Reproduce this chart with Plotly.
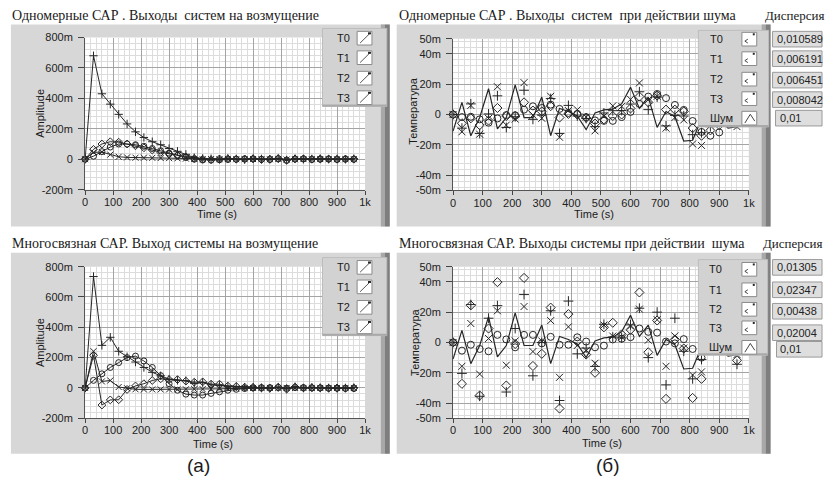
import plotly.graph_objects as go

W, H = 830, 485
def px(x): return x / W
def py(y): return 1 - y / H

# ---------------- data ----------------
t = list(range(0, 961, 30))  # 33 samples

x_ticks = [0, 100, 200, 300, 400, 500, 600, 700, 800, 900, 1000]
x_ticktext = ['0', '100', '200', '300', '400', '500', '600', '700', '800', '900', '1k']
amp_ticks = [-0.2, 0, 0.2, 0.4, 0.6, 0.8]
amp_ticktext = ['-200m', '0', '200m', '400m', '600m', '800m']
temp_ticks = [-0.05, -0.04, -0.02, 0, 0.02, 0.04, 0.05]
temp_ticktext = ['-50m', '-40m', '-20m', '0', '20m', '40m', '50m']

series_names = ['T0', 'T1', 'T2', 'T3']
series_symbols = ['x-thin-open', 'circle-open', 'diamond-open', 'cross-thin-open']

# Одномерные САР, выходы на возмущение
dist1_T0 = [0, 0.045, 0.047, 0.03, 0.016, 0.012, 0.01, 0.01, 0.009, 0.008, 0.007, 0.006, 0.004, 0.002, 0.0,
            0.001, 0.0, 0.002, 0.0, 0.0, 0.001, 0.0, 0.0, 0.002, -0.002, 0.0, 0.001, 0.0, 0.001, 0.0, 0.0, 0.0, 0.0]
dist1_T1 = [0, 0.02, 0.05, 0.08, 0.1, 0.1, 0.095, 0.085, 0.07, 0.055, 0.04, 0.025, 0.012, 0.0, -0.005,
            -0.006, -0.004, -0.002, 0.0, 0.001, 0.002, 0.0, -0.002, 0.003, -0.008, 0.001, 0.002, -0.002, 0.0, 0.002, -0.002, 0.0, 0.0]
dist1_T2 = [0, 0.065, 0.1, 0.115, 0.112, 0.1, 0.088, 0.075, 0.06, 0.045, 0.035, 0.025, 0.015, 0.005, 0.0,
            -0.003, 0.002, 0.003, 0.0, 0.002, 0.003, -0.002, 0.0, 0.004, -0.006, 0.002, 0.003, 0.0, 0.002, 0.001, 0.0, 0.002, 0.0]
dist1_T3 = [0, 0.68, 0.43, 0.362, 0.295, 0.232, 0.18, 0.143, 0.115, 0.095, 0.07, 0.052, 0.032, 0.01, 0.005,
            0.003, 0.0, 0.005, 0.002, -0.003, 0.004, 0.002, 0.0, 0.005, -0.005, 0.004, 0.0, 0.002, 0.004, 0.0, 0.002, 0.0, 0.003]

# Многосвязная САР, выход на возмущение
dist2_T0 = [0, 0.242, 0.043, 0.049, 0.006, -0.002, -0.009, -0.01, -0.01, -0.01, -0.01, -0.009, -0.009, -0.008, -0.008,
            -0.007, -0.006, -0.004, -0.003, -0.001, 0.0, 0.0, 0.0, 0.0, 0.0, 0.0, 0.0, 0.0, 0.0, 0.0, 0.0, 0.0, 0.0]
dist2_T1 = [0, 0.05, 0.093, 0.135, 0.167, 0.2, 0.21, 0.178, 0.135, 0.081, 0.028, -0.015, -0.041, -0.047, -0.047,
            -0.036, -0.026, -0.015, -0.009, -0.004, 0.0, 0.002, 0.002, 0.003, -0.002, 0.002, 0.002, 0.0, 0.0, -0.001, -0.002, -0.003, -0.004]
dist2_T2 = [0, 0.215, -0.113, -0.079, -0.078, -0.01, 0.013, 0.028, 0.049, 0.06, 0.055, 0.055, 0.045, 0.038, 0.04,
            0.025, 0.025, 0.012, 0.01, 0.005, 0.004, 0.0, -0.002, 0.004, -0.008, 0.006, 0.0, 0.002, 0.0, -0.002, 0.0, -0.002, 0.0]
dist2_T3 = [0, 0.735, 0.281, 0.334, 0.242, 0.206, 0.171, 0.135, 0.103, 0.08, 0.058, 0.05, 0.048, 0.03, 0.035,
            0.02, 0.017, 0.01, 0.008, 0.005, 0.004, 0.002, -0.002, 0.005, -0.004, 0.008, 0.0, 0.003, 0.002, 0.0, -0.002, 0.0, 0.002]

# шум (одинаковый для обоих графиков)
noise = [-0.011, 0.008, -0.014, -0.002, 0.017, -0.0095, -0.002, 0.0195, -0.002, -0.002, 0.0115, -0.014, 0.004, 0.002, -0.001,
         -0.010, 0.001, 0.003, 0.0035, 0.007, 0.018, 0.004, 0.0115, -0.0085, 0.002, -0.0015, -0.0175, -0.017, -0.003, -0.006,
         -0.004, -0.009, -0.008]

# Одномерные САР, выходы при действии шума
noise1_T0 = [0, -0.0114, 0.006, -0.013, -0.0026, 0.0183, -0.007, -0.003, 0.021, -0.0004, -0.0025, 0.012, -0.015, 0.0026, 0.0032,
             -0.0017, -0.0108, -0.001, 0.0057, 0.0054, 0.01, 0.0208, 0.0097, 0.012, -0.009, -0.002, -0.0036, -0.0194, -0.0204,
             -0.006, -0.004, -0.003, -0.008]
noise1_T1 = [0, -0.0017, -0.0015, -0.0032, -0.0054, -0.0026, -0.0004, -0.0005, 0.0032, 0.0054, 0.0043, 0.0065, 0.0037, 0.001, 0.0004,
             -0.0017, -0.0039, -0.0042, -0.0042, -0.0017, 0.0017, 0.007, 0.0118, 0.0135, 0.0108, 0.0063, 0.003, -0.0043, -0.0115,
             -0.014, -0.0118, -0.006, -0.004]
noise1_T2 = [0, -0.0058, -0.0025, -0.007, -0.004, 0.0043, -0.001, -0.001, 0.008, 0.0026, 0.002, 0.0055, -0.002, 0.0004, 0.0,
             -0.0022, -0.006, -0.0032, -0.001, 0.0, 0.004, 0.0118, 0.008, 0.0125, 0.0032, 0.0032, 0.002, -0.009, -0.014,
             -0.0105, -0.007, -0.004, -0.005]
noise1_T3 = [0, -0.009, 0.007, -0.0125, 0.0004, 0.0123, -0.0086, -0.0015, 0.016, -0.0032, -0.0004, 0.0105, -0.0125, 0.006, -0.001,
             -0.0026, -0.008, 0.001, 0.0025, 0.0026, 0.0069, 0.015, 0.0032, 0.0115, -0.0075, -0.0006, -0.001, -0.0133, -0.012,
             -0.008, -0.005, -0.002, -0.006]

# Многосвязная САР, выходы при действии шума
noise2_T0 = [0, -0.0157, 0.0125, -0.0209, 0.0026, 0.0209, -0.015, 0.001, 0.0237, -0.006, 0.001, 0.0144, -0.023, 0.0103, -0.002,
             -0.0054, -0.0137, 0.0115, 0.0042, 0.0036, 0.0108, 0.022, 0.0015, 0.015, -0.0157, 0.0043, -0.0037, -0.0215, -0.0194,
             -0.003, 0.002, -0.003, -0.008]
noise2_T1 = [0, -0.0054, -0.0015, -0.0043, -0.0058, 0.005, 0.002, -0.0032, 0.005, 0.005, -0.0006, 0.0037, -0.0015, -0.0015, 0.0034,
             0.0006, -0.0032, -0.0021, 0.002, 0.0025, 0.0035, 0.0092, 0.007, 0.0065, 0.0006, -0.0006, 0.0022, -0.0043, -0.01,
             -0.004, -0.002, -0.002, -0.005]
noise2_T2 = [0, -0.0273, 0.0245, -0.035, 0.0092, 0.0398, -0.0284, -0.001, 0.0426, -0.0155, -0.0075, 0.023, -0.0436, 0.0187, 0.0006,
             -0.008, -0.02, 0.01, 0.013, 0.0053, 0.0084, 0.033, -0.0065, 0.0145, -0.0372, 0.002, -0.004, -0.0366, -0.024,
             -0.002, 0.004, -0.006, -0.0118]
noise2_T3 = [0, -0.0204, 0.025, -0.0355, 0.016, 0.0243, -0.0327, 0.0092, 0.0316, -0.022, 0.0, 0.0209, -0.0383, 0.0273, -0.0075,
             -0.0037, -0.0158, 0.012, 0.0036, 0.003, 0.0116, 0.0226, -0.01, 0.02, -0.028, 0.016, -0.0058, -0.024, -0.0112,
             -0.005, 0.0, -0.004, -0.0144]

disp_top = ['0,010589', '0,006191', '0,006451', '0,008042', '0,01']
disp_bot = ['0,01305', '0,02347', '0,00438', '0,02004', '0,01']

# ---------------- layout geometry ----------------
INK = '#262626'
SANS = 'Liberation Sans'
SERIF = 'Liberation Serif'

plots = {
    1: dict(x=(83, 366), y=(32.3, 188.3)),    # top-left
    2: dict(x=(455, 754), y=(33.5, 189.0)),   # top-right
    3: dict(x=(83, 366), y=(267.3, 422.7)),   # bottom-left
    4: dict(x=(455, 754), y=(267.3, 422.7)),  # bottom-right
}

fig = go.Figure()

def add_line_series(k, ys_list):
    for name, sym, ys in zip(series_names, series_symbols, ys_list):
        fig.add_trace(go.Scatter(
            x=t, y=ys, mode='lines+markers', name=name,
            xaxis='x' if k == 1 else f'x{k}', yaxis='y' if k == 1 else f'y{k}',
            line=dict(color=INK, width=1),
            marker=dict(symbol=sym, size=6, color=INK, line=dict(color=INK, width=1)),
            cliponaxis=False, showlegend=False))

def add_point_series(k, ys_list):
    fig.add_trace(go.Scatter(
        x=t, y=noise, mode='lines', name='Шум',
        xaxis=f'x{k}', yaxis=f'y{k}', line=dict(color=INK, width=1.2),
        cliponaxis=False, showlegend=False))
    for name, sym, ys in zip(series_names, series_symbols, ys_list):
        fig.add_trace(go.Scatter(
            x=t, y=ys, mode='markers', name=name,
            xaxis=f'x{k}', yaxis=f'y{k}',
            marker=dict(symbol=sym, size=7, color=INK, line=dict(color=INK, width=1)),
            cliponaxis=False, showlegend=False))

add_line_series(1, [dist1_T0, dist1_T1, dist1_T2, dist1_T3])
add_point_series(2, [noise1_T0, noise1_T1, noise1_T2, noise1_T3])
add_line_series(3, [dist2_T0, dist2_T1, dist2_T2, dist2_T3])
add_point_series(4, [noise2_T0, noise2_T1, noise2_T2, noise2_T3])

tickfont = dict(family=SANS, size=11, color='#222')
layout = dict(width=W, height=H, margin=dict(l=0, r=0, t=0, b=0), hovermode=False,
              paper_bgcolor='white', plot_bgcolor='rgba(0,0,0,0)', showlegend=False)

for k, g in plots.items():
    xs = 'xaxis' if k == 1 else f'xaxis{k}'
    ysn = 'yaxis' if k == 1 else f'yaxis{k}'
    xa = 'x' if k == 1 else f'x{k}'
    ya = 'y' if k == 1 else f'y{k}'
    left = k in (1, 3)
    layout[xs] = dict(domain=[px(g['x'][0]), px(g['x'][1])], anchor=ya, range=[0, 1000],
                      tickvals=x_ticks, ticktext=x_ticktext, showgrid=True, gridcolor='#a4a4a4', gridwidth=1,
                      minor=dict(dtick=20, tick0=0, showgrid=True, gridcolor='#dcdcdc', gridwidth=1),
                      ticks='outside', ticklen=4, tickcolor='#444', showline=True, linecolor='#555',
                      ticklabelstandoff=-2,
                      zeroline=False, tickfont=tickfont, fixedrange=True)
    if left:
        ycfg = dict(range=[-0.2, 0.8], tickvals=amp_ticks, ticktext=amp_ticktext,
                    minor=dict(dtick=0.04, tick0=0, showgrid=True, gridcolor='#dcdcdc', gridwidth=1))
    else:
        ycfg = dict(range=[-0.05, 0.05], tickvals=temp_ticks, ticktext=temp_ticktext,
                    minor=dict(dtick=0.004, tick0=0, showgrid=True, gridcolor='#dcdcdc', gridwidth=1))
    layout[ysn] = dict(domain=[py(g['y'][1]), py(g['y'][0])], anchor=xa,
                       showgrid=True, gridcolor='#a4a4a4', gridwidth=1,
                       ticks='outside', ticklen=6, tickcolor='#444', showline=True, linecolor='#555',
                       ticklabelstandoff=3,
                       zeroline=False, tickfont=tickfont, fixedrange=True, **ycfg)

fig.update_layout(**layout)

shapes = []
def rect(x0, y0, x1, y1, fill, line=None, lw=0, layer='below'):
    shapes.append(dict(type='rect', xref='paper', yref='paper', x0=px(x0), x1=px(x1), y0=py(y1), y1=py(y0),
                       fillcolor=fill, line=dict(color=line or fill, width=lw), layer=layer))
def seg(path, color=INK, w=1, layer='above'):
    shapes.append(dict(type='path', xref='paper', yref='paper', path=path,
                       line=dict(color=color, width=w), layer=layer))
def P(x, y):
    return f'{px(x):.5f},{py(y):.5f}'

# panels
for (x0, x1) in [(8, 391), (398, 776)]:
    for (y0, y1) in [(19, 226), (253, 459)]:
        rect(x0, y0, x1, y1, '#d7d7d7')
        rect(x1 - 9, y0, x1 - 5, y1, '#a8a8a8')
        rect(x1 - 5, y0, x1, y1, '#7e7e7e')
# white plot areas
for k, g in plots.items():
    rect(g['x'][0], g['y'][0], g['x'][1], g['y'][1], '#ffffff')

ann_list = []
def ann(x, y, text, size=11, family=SANS, xanchor='left', angle=0, color='#1a1a1a'):
    ann_list.append(dict(x=px(x), y=py(y), xref='paper', yref='paper', text=text, showarrow=False,
                         font=dict(family=family, size=size, color=color), xanchor=xanchor,
                         yanchor='middle', textangle=angle))

# legends
def legend(x0, x1, y0, y1, rows, lab_x, icon_x0, icon_x1, kind):
    rect(x0, y0, x1, y1, '#d2d2d2', '#bdbdbd', 1, layer='above')
    rect(x0, y1 - 2, x1, y1, '#a9a9a9', layer='above')
    for i, (label, yc) in enumerate(rows):
        ann(lab_x, yc, label, 11, SANS, 'left')
        rect(icon_x0, yc - 7, icon_x1, yc + 7, '#ffffff', '#8a8a8a', 1, layer='above')
        a, b = icon_x0 + 2, icon_x1 - 2
        if kind == 'line':
            seg(f'M {P(a + 1, yc + 5)} L {P(b, yc - 5)}', '#555', 1)
            seg(f'M {P(b - 2, yc - 5)} L {P(b + 1, yc - 5)}', INK, 2)
        elif label == 'Шум':
            seg(f'M {P(a + 1, yc + 5)} L {P((a + b) / 2 + 1, yc - 4)} L {P(b, yc + 3)}', '#444', 1)
        else:
            seg(f'M {P(a + 4, yc)} L {P(a + 1, yc + 2)} L {P(a + 4, yc + 4)}', '#444', 1)
            seg(f'M {P(b - 2, yc - 5)} L {P(b, yc - 5)}', INK, 2)

legend(323, 388, 23, 103, [('T0', 33), ('T1', 53), ('T2', 74), ('T3', 94)], 336, 358, 373, 'line')
legend(323, 388, 258, 338, [('T0', 268), ('T1', 288), ('T2', 309), ('T3', 329)], 336, 358, 373, 'line')
legend(703, 774, 25, 124, [('T0', 34), ('T1', 54), ('T2', 75), ('T3', 95), ('Шум', 115)], 713, 747, 762, 'pts')
legend(703, 773, 260, 358, [('T0', 270), ('T1', 291), ('T2', 311), ('T3', 330), ('Шум', 350)], 712, 747, 762, 'pts')

# dispersion indicators
def disp(values, rows, last_x0):
    for i, (v, yc) in enumerate(zip(values, rows)):
        x0 = last_x0 if i == len(values) - 1 else 778
        rect(x0, yc - 8, 828, yc + 8, '#dedede', '#9a9a9a', 1, layer='above')
        ann(x0 + 2, yc, v, 11, SANS, 'left', color='#222')

disp(disp_top, [34, 54, 76, 96, 115], 781)
disp(disp_bot, [268, 291, 313, 335, 352], 782)

# titles
ann(7, 10, 'Одномерные САР . Выходы  систем на возмущение', 14, SERIF)
ann(398, 10, 'Одномерные САР . Выходы  систем  при действии шума', 14, SERIF)
ann(768, 10, 'Дисперсия', 13, SERIF)
ann(7, 244, 'Многосвязная САР. Выход системы на возмущение', 14, SERIF)
ann(398, 244, 'Многосвязная САР. Выходы системы при действии  шума', 14, SERIF)
ann(766, 244, 'Дисперсия', 13, SERIF)

# axis titles
ann(216, 213, 'Time (s)', 11, SANS, 'center')
ann(597, 213, 'Time (s)', 11, SANS, 'center')
ann(212, 449, 'Time (s)', 11, SANS, 'center')
ann(606, 448, 'Time (s)', 11, SANS, 'center')
ann(38, 110, 'Amplitude', 11, SANS, 'center', -90)
ann(38, 345, 'Amplitude', 11, SANS, 'center', -90)
ann(415, 108, 'Температура', 11, SANS, 'center', -90)
ann(417, 344, 'Температура', 11, SANS, 'center', -90)

# captions
ann(198, 471, '(а)', 19, SANS, 'center')
ann(612, 471, '(б)', 19, SANS, 'center')

fig.update_layout(shapes=shapes, annotations=ann_list)
fig.write_html('out.html', config={'displayModeBar': False},
               post_script="document.body.style.margin='0px';document.body.style.overflow='hidden';")
